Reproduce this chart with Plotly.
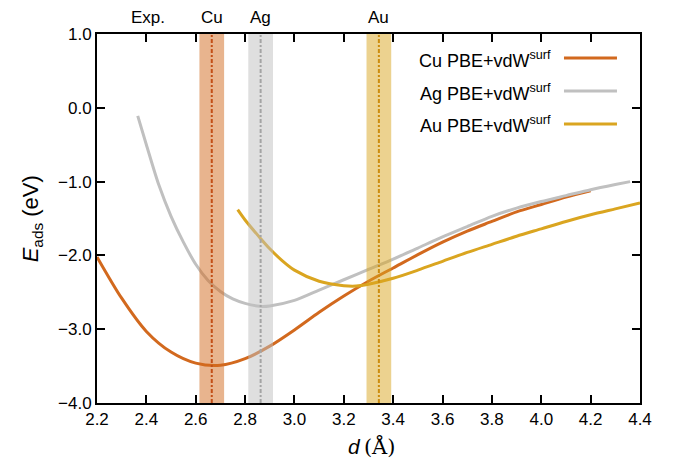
import plotly.graph_objects as go

# ---- data ----
cu_d = [2.20, 2.30, 2.40, 2.50, 2.60, 2.70, 2.80, 2.90, 3.00, 3.10, 3.20, 3.30, 3.40,
        3.50, 3.60, 3.70, 3.80, 3.90, 4.00, 4.10, 4.20]
cu_e = [-2.02, -2.58, -3.03, -3.31, -3.46, -3.49, -3.40, -3.23, -3.01, -2.77, -2.55,
        -2.35, -2.17, -1.99, -1.82, -1.67, -1.54, -1.41, -1.31, -1.21, -1.125]

ag_d = [2.365, 2.40, 2.45, 2.50, 2.55, 2.60, 2.65, 2.70, 2.75, 2.80, 2.86, 2.90, 3.00,
        3.10, 3.20, 3.30, 3.40, 3.50, 3.60, 3.70, 3.80, 3.90, 4.00, 4.10, 4.20, 4.30, 4.36]
ag_e = [-0.11, -0.50, -1.04, -1.47, -1.82, -2.12, -2.34, -2.49, -2.59, -2.65, -2.69, -2.685,
        -2.61, -2.47, -2.33, -2.19, -2.05, -1.90, -1.75, -1.61, -1.47, -1.36, -1.27, -1.19,
        -1.11, -1.04, -1.00]

au_d = [2.77, 2.80, 2.86, 2.90, 2.95, 3.00, 3.10, 3.20, 3.25, 3.30, 3.40, 3.50, 3.60, 3.70,
        3.80, 3.90, 4.00, 4.10, 4.20, 4.30, 4.40]
au_e = [-1.38, -1.52, -1.76, -1.91, -2.07, -2.20, -2.35, -2.41, -2.415, -2.39, -2.31, -2.20,
        -2.08, -1.96, -1.85, -1.74, -1.64, -1.54, -1.45, -1.37, -1.29]

exp_labels = ["Cu", "Ag", "Au"]
exp_d = [2.665, 2.863, 3.342]
exp_err = [0.05, 0.05, 0.05]

series_names = ["Cu PBE+vdW<sup>surf</sup>", "Ag PBE+vdW<sup>surf</sup>", "Au PBE+vdW<sup>surf</sup>"]
line_colors = ["#d2691e", "#c0c0c0", "#daa520"]
band_colors = ["rgba(210,105,30,0.5)", "rgba(192,192,192,0.5)", "rgba(218,165,32,0.5)"]
vline_colors = ["#c24e16", "#a4a4a4", "#cc8c0e"]

FONT = "Liberation Sans, Arial, sans-serif"

fig = go.Figure()

for d, e, c, n in zip([cu_d, ag_d, au_d], [cu_e, ag_e, au_e], line_colors, series_names):
    fig.add_trace(go.Scatter(x=d, y=e, mode="lines", name=n,
                             line=dict(color=c, width=3, shape="spline", smoothing=0.8),
                             showlegend=False))

shapes = []
annotations = []
for lab, xd, er, bc in zip(exp_labels, exp_d, exp_err, band_colors):
    shapes.append(dict(type="rect", xref="x", yref="paper", x0=xd - er, x1=xd + er,
                       y0=0, y1=1, fillcolor=bc, line=dict(width=0), layer="above"))
for lab, xd, vc in zip(exp_labels, exp_d, vline_colors):
    shapes.append(dict(type="line", xref="x", yref="paper", x0=xd, x1=xd, y0=0, y1=1,
                       line=dict(color=vc, width=2, dash="4px,2px,2px,2px"), layer="above"))
    annotations.append(dict(text=lab, xref="x", yref="paper", x=xd, y=1.046,
                            yanchor="middle", xanchor="center", showarrow=False,
                            font=dict(size=17, color="black", family=FONT)))
annotations.append(dict(text="Exp.", xref="x", yref="paper", x=2.405, y=1.046,
                        yanchor="middle", xanchor="center", showarrow=False,
                        font=dict(size=17, color="black", family=FONT)))

# custom legend (text left, line sample right)
leg_text_y = [0.932, 0.8428, 0.7534]
leg_line_y = [0.935, 0.8455, 0.756]
for n, c, ty, ly in zip(series_names, line_colors, leg_text_y, leg_line_y):
    annotations.append(dict(text=n, xref="paper", yref="paper", x=0.839, y=ty,
                            xanchor="right", yanchor="middle", showarrow=False,
                            font=dict(size=18, color="black", family=FONT)))
    shapes.append(dict(type="line", xref="paper", yref="paper", x0=0.860, x1=0.9576,
                       y0=ly, y1=ly, line=dict(color=c, width=3)))

# axis titles
annotations.append(dict(text="<i>E</i><sub>ads</sub> (eV)", xref="paper", yref="paper",
                        x=-0.12, y=0.5, textangle=-90, xanchor="center", yanchor="middle",
                        showarrow=False, font=dict(size=22, color="black", family=FONT)))
annotations.append(dict(text="<i>d</i><span style=\"font-family:'DejaVu Serif'\">\u2009(Å)</span>",
                        xref="paper", yref="paper", x=0.505, y=-0.119,
                        xanchor="center", yanchor="middle", showarrow=False,
                        font=dict(size=21, color="black", family=FONT)))

fig.update_layout(
    width=665, height=454,
    margin=dict(l=89, r=33, t=26, b=59),
    paper_bgcolor="white", plot_bgcolor="white",
    font=dict(family=FONT, size=17, color="black"),
    shapes=shapes, annotations=annotations,
    showlegend=False,
)
fig.update_xaxes(range=[2.2, 4.4], dtick=0.2, tick0=2.2, tickformat=".1f",
                 showgrid=False, zeroline=False, showline=True, linecolor="black",
                 linewidth=2, mirror="allticks", ticks="inside", ticklen=8, tickwidth=2,
                 tickcolor="black", tickfont=dict(size=17), automargin=False)
fig.update_yaxes(range=[-4.0, 1.0], dtick=1.0, tickformat=".1f",
                 showgrid=False, zeroline=False, showline=True, linecolor="black",
                 linewidth=2, mirror="allticks", ticks="inside", ticklen=8, tickwidth=2,
                 tickcolor="black", tickfont=dict(size=17), automargin=False)

fig.write_html("out.html")
